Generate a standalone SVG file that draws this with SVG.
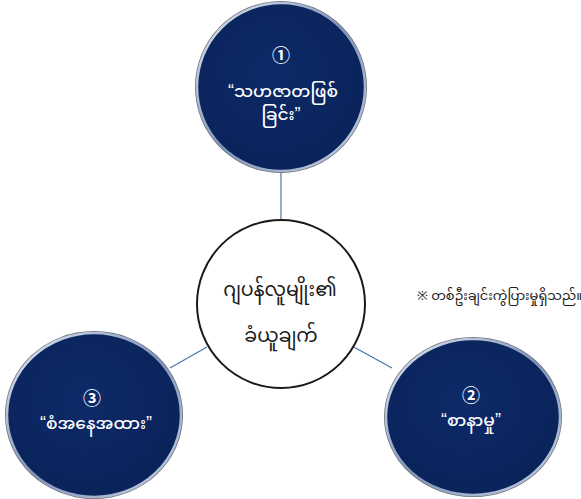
<svg xmlns="http://www.w3.org/2000/svg" width="581" height="499" viewBox="0 0 581 499">
  <defs>
    <radialGradient id="fillNavy" cx="0.45" cy="0.4" r="0.65">
      <stop offset="0" stop-color="#0d2a68"/>
      <stop offset="1" stop-color="#0a2259"/>
    </radialGradient>
    <linearGradient id="rim" x1="0" y1="0" x2="1" y2="1">
      <stop offset="0" stop-color="#e8eef8"/>
      <stop offset="0.5" stop-color="#7f93b8"/>
      <stop offset="1" stop-color="#c9d3e6"/>
    </linearGradient>
  </defs>
  <style>
    .bg { fill: #ffffff; }
    .conn { stroke: #4a72ad; stroke-width: 1.2; fill: none; }
    .outer { fill: #6b6f78; }
    .navy { fill: url(#fillNavy); stroke: url(#rim); stroke-width: 2.5; }
    .center { fill: #ffffff; stroke: #1a1a1a; stroke-width: 2; }
    .wt { fill: #ffffff; font-family: "Noto Sans Myanmar", "Myanmar Text", "Padauk", "Noto Sans", "DejaVu Sans", sans-serif; font-size: 17px; font-weight: 500; text-anchor: middle; }
    .q { font-family: "Liberation Sans", Arial, sans-serif; font-size: 18px; }
    .num { fill: #ffffff; font-family: "Noto Sans CJK JP", "DejaVu Sans", sans-serif; font-size: 18px; font-weight: 700; text-anchor: middle; }
    .ct { fill: #1a1a1a; font-family: "Noto Sans Myanmar", "Myanmar Text", "Padauk", "Noto Sans", "DejaVu Sans", sans-serif; font-size: 19px; text-anchor: middle; }
    .note { fill: #1a1a1a; font-family: "Noto Sans Myanmar", "Myanmar Text", "Padauk", "Noto Sans", "DejaVu Sans", "Noto Sans CJK JP", sans-serif; font-size: 13px; }
  </style>
  <rect class="bg" x="0" y="0" width="581" height="499"/>

  <g id="connectors">
    <line class="conn" x1="281" y1="172" x2="281" y2="220"/>
    <line class="conn" x1="207" y1="347" x2="170" y2="368"/>
    <line class="conn" x1="352" y1="346" x2="392" y2="368"/>
  </g>

  <g id="node-top">
    <ellipse class="outer" cx="281" cy="87" rx="86" ry="86"/>
    <ellipse class="navy" cx="281" cy="87" rx="84" ry="84"/>
    <text class="num" x="281" y="62">①</text>
    <text class="wt" x="283" y="97"><tspan class="q">“</tspan>သဟဇာတဖြစ်</text>
    <text class="wt" x="281" y="120">ခြင်း<tspan class="q">”</tspan></text>
  </g>

  <g id="node-center">
    <circle class="center" cx="281" cy="304" r="84"/>
    <text class="ct" x="280" y="296">ဂျပန်လူမျိုး၏</text>
    <text class="ct" x="281" y="342">ခံယူချက်</text>
  </g>

  <g id="node-left">
    <ellipse class="outer" cx="94" cy="415" rx="89" ry="84"/>
    <ellipse class="navy" cx="94" cy="415" rx="87" ry="82"/>
    <text class="num" x="92" y="405">③</text>
    <text class="wt" x="96" y="429"><tspan class="q">“</tspan>စံအနေအထား<tspan class="q">”</tspan></text>
  </g>

  <g id="node-right">
    <ellipse class="outer" cx="473" cy="417" rx="89" ry="80"/>
    <ellipse class="navy" cx="473" cy="417" rx="87" ry="78"/>
    <text class="num" x="471" y="402">②</text>
    <text class="wt" x="471" y="426"><tspan class="q">“</tspan>စာနာမှု<tspan class="q">”</tspan></text>
  </g>

  <g id="note">
    <text class="note" x="417" y="300">※ တစ်ဦးချင်းကွဲပြားမှုရှိသည်။</text>
  </g>
</svg>
